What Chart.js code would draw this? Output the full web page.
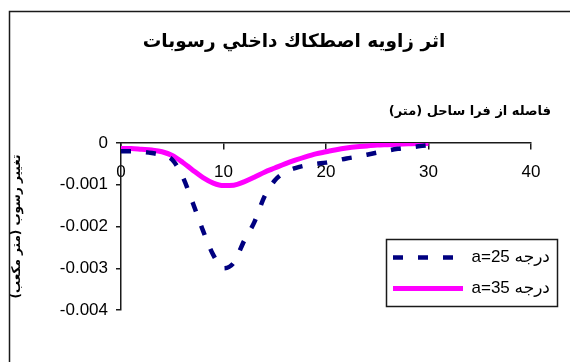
<!DOCTYPE html>
<html>
<head>
<meta charset="utf-8">
<script src="https://cdn.jsdelivr.net/npm/chart.js@4.4.1/dist/chart.umd.min.js"></script>
<style>
  html, body { margin: 0; padding: 0; background: #fff; }
</style>
</head>
<body>
<canvas id="sedChart" width="570" height="362"></canvas>
<script>
// distance from shore (m)
const distance = [0, 1, 2, 3, 4, 5, 6, 7, 8, 9, 10, 11, 12, 13, 14, 15,
  16, 17, 18, 19, 20, 21, 22, 23, 24, 25, 26, 27, 28, 29, 30];

// sediment change (m3), friction angle 25 deg
const a25 = [-0.00020, -0.00020, -0.00021, -0.00024, -0.00029, -0.00040, -0.00080,
  -0.00143, -0.00210, -0.00268, -0.00300, -0.00287, -0.00235, -0.00190, -0.00128,
  -0.00090, -0.00070, -0.00060, -0.00054, -0.00050, -0.00047, -0.00042, -0.00037,
  -0.00033, -0.00028, -0.00023, -0.00018, -0.00014, -0.00011, -0.00008, -0.00005];

// sediment change (m3), friction angle 35 deg
const a35 = [-0.00013, -0.00013, -0.00015, -0.00017, -0.00021, -0.00030, -0.00046,
  -0.00065, -0.00083, -0.00096, -0.00102, -0.00101, -0.00093, -0.00082, -0.00070,
  -0.00060, -0.00050, -0.00041, -0.00033, -0.00026, -0.00021, -0.00016, -0.00012,
  -0.00009, -0.00007, -0.00005, -0.00004, -0.00003, -0.00002, -0.00001, -0.00001];

// written in visual order (canvas runs left-to-right)
const seriesLabels = ['a=25 درجه', 'a=35 درجه'];
const xTicks = [0, 10, 20, 30, 40];
const yTicks = [0, -0.001, -0.002, -0.003, -0.004];

const chartTitle = 'اثر زاويه اصطكاك داخلي رسوبات';
const xTitle = 'فاصله از فرا ساحل (متر)';
const yTitle = 'تغيير رسوب (متر مكعب)';

const LEGEND_BOX = { x: 386, y: 239, w: 171, h: 67 };
const AXIS_COLOR = '#1a1a1a';
const ARABIC_FONT = "'DejaVu Sans', sans-serif";

Chart.defaults.font.family = "'Liberation Sans', 'DejaVu Sans', sans-serif";
Chart.defaults.color = '#000';

const toPoints = ys => ys.map((y, i) => ({ x: distance[i], y }));

// outer frame + legend frame, and put the legend inside the plot
const framePlugin = {
  id: 'frames',
  afterLayout(chart) {
    const lg = chart.legend;
    lg.left = LEGEND_BOX.x - 7;
    lg.top = LEGEND_BOX.y - 4;
    lg.width = LEGEND_BOX.w + 10;
    lg.height = LEGEND_BOX.h + 20;
    lg.right = lg.left + lg.width;
    lg.bottom = lg.top + lg.height;
  },
  afterDraw(chart) {
    const ctx = chart.ctx;
    ctx.save();
    ctx.strokeStyle = AXIS_COLOR;
    ctx.lineWidth = 1.5;
    ctx.strokeRect(LEGEND_BOX.x + 0.5, LEGEND_BOX.y + 0.5, LEGEND_BOX.w, LEGEND_BOX.h);
    ctx.beginPath();
    ctx.moveTo(9.5, chart.height);
    ctx.lineTo(9.5, 11.5);
    ctx.lineTo(chart.width, 11.5);
    ctx.stroke();
    ctx.restore();
  }
};

new Chart(document.getElementById('sedChart'), {
  type: 'line',
  data: {
    datasets: [
      {
        label: seriesLabels[0],
        data: toPoints(a25),
        borderColor: '#000080',
        borderWidth: 4.5,
        borderDash: [10, 15],
        pointRadius: 0,
        pointStyle: 'line',
        cubicInterpolationMode: 'monotone',
        fill: false
      },
      {
        label: seriesLabels[1],
        data: toPoints(a35),
        borderColor: '#ff00ff',
        borderWidth: 5,
        pointRadius: 0,
        pointStyle: 'line',
        cubicInterpolationMode: 'monotone',
        fill: false
      }
    ]
  },
  options: {
    responsive: false,
    animation: false,
    layout: { padding: { left: 37, right: 19, top: 0, bottom: 52 } },
    scales: {
      x: {
        type: 'linear',
        position: { y: 0 },
        min: 0,
        max: 40,
        afterBuildTicks: s => { s.ticks = xTicks.map(v => ({ value: v })); },
        ticks: { font: { size: 17 }, padding: 13, maxRotation: 0 },
        grid: { drawOnChartArea: false, tickLength: 6, color: AXIS_COLOR, lineWidth: 1.5 },
        border: { color: AXIS_COLOR, width: 1.5 }
      },
      y: {
        type: 'linear',
        position: 'left',
        min: -0.004,
        max: 0,
        afterBuildTicks: s => { s.ticks = yTicks.map(v => ({ value: v })); },
        afterFit: s => { s.width = 84; },
        ticks: {
          font: { size: 17 },
          padding: 8,
          callback: v => (v === 0 ? '0' : v.toFixed(3))
        },
        grid: { drawOnChartArea: false, tickLength: 5, color: AXIS_COLOR, lineWidth: 1.5 },
        border: { color: AXIS_COLOR, width: 1.5 },
        title: {
          display: true,
          text: yTitle,
          font: { family: ARABIC_FONT, size: 12, weight: 'bold' },
          padding: { top: -27, bottom: 0 }
        }
      }
    },
    plugins: {
      title: {
        display: true,
        text: chartTitle,
        font: { family: ARABIC_FONT, size: 18.5, weight: 'bold', lineHeight: 1.2 },
        padding: { top: 31, bottom: 0 }
      },
      subtitle: {
        display: true,
        text: xTitle,
        align: 'end',
        color: '#000',
        font: { family: ARABIC_FONT, size: 13, weight: 'bold', lineHeight: 1.2 },
        padding: { top: 51, bottom: 23.2 }
      },
      legend: {
        position: 'right',
        align: 'start',
        maxWidth: 20,
        labels: {
          usePointStyle: true,
          pointStyleWidth: 70,
          padding: 14,
          font: { size: 17 },
          generateLabels: chart =>
            Chart.defaults.plugins.legend.labels.generateLabels(chart).map((item, i) => {
              const ds = chart.data.datasets[i];
              return { ...item, lineDash: ds.borderDash || [], lineWidth: ds.borderWidth, strokeStyle: ds.borderColor };
            })
        }
      },
      tooltip: { enabled: false }
    }
  },
  plugins: [framePlugin]
});
</script>
</body>
</html>
